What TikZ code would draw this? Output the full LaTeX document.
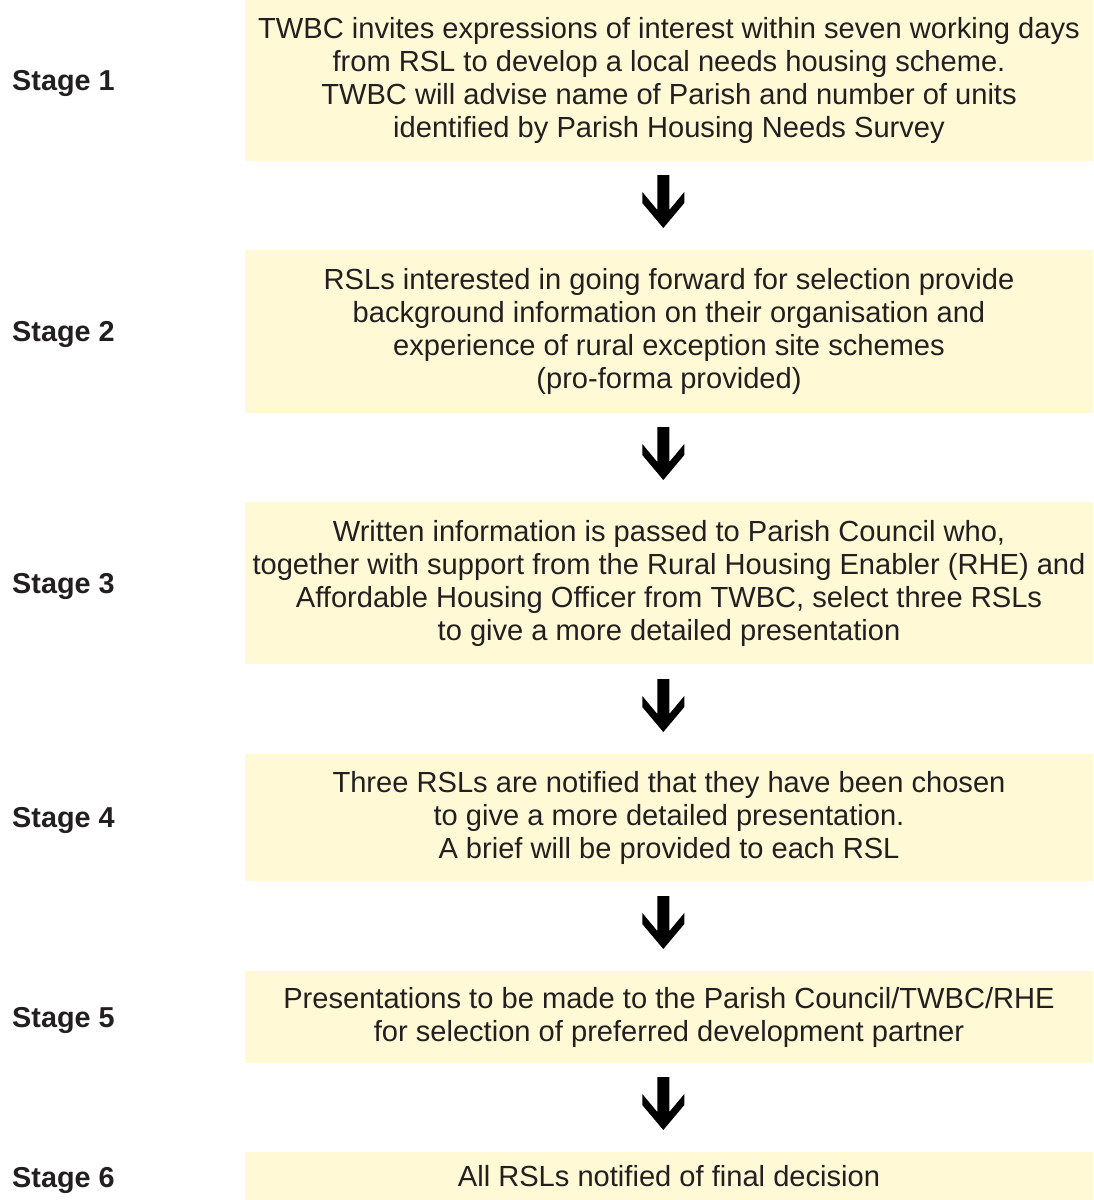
\documentclass[tikz,border=0pt]{standalone}
\usepackage{fontspec}
\setmainfont{Liberation Sans}
\definecolor{boxfill}{RGB}{255,249,214}
\definecolor{txt}{RGB}{35,31,32}
\begin{document}
\begin{tikzpicture}[x=1pt,y=-1pt,
  box/.style={fill=boxfill, draw=none, inner sep=0pt, minimum width=848pt,
    align=center, text=txt, font=\fontsize{29.1}{33}\selectfont},
  stagelabel/.style={anchor=base west, inner sep=0pt, text=txt,
    font=\fontsize{28.8}{33}\selectfont\bfseries},
  downarrow/.pic={\fill[black] (-6,0) -- (6,0) -- (6,35) -- (21,17) -- (21,28)
     -- (0,53) -- (-21,28) -- (-21,17) -- (-6,35) -- cycle;}]
\useasboundingbox (0,0) rectangle (1093,1200);
\node[box, minimum height=161pt] (b1) at (669,80.5) {TWBC invites expressions of interest within seven working days\\ from RSL to develop a local needs housing scheme.\\ TWBC will advise name of Parish and number of units\\ identified by Parish Housing Needs Survey};
\node[box, minimum height=163pt] (b2) at (669,331.5) {RSLs interested in going forward for selection provide\\ background information on their organisation and\\ experience of rural exception site schemes\\ (pro-forma provided)};
\node[box, minimum height=162pt] (b3) at (669,583) {Written information is passed to Parish Council who,\\ together with support from the Rural Housing Enabler (RHE) and\\ Affordable Housing Officer from TWBC, select three RSLs\\ to give a more detailed presentation};
\node[box, minimum height=127pt] (b4) at (669,817.5) {Three RSLs are notified that they have been chosen\\ to give a more detailed presentation.\\ A brief will be provided to each RSL};
\node[box, minimum height=92pt] (b5) at (669,1017) {Presentations to be made to the Parish Council/TWBC/RHE\\ for selection of preferred development partner};
\node[box, minimum height=48pt] (b6) at (669,1176) {All RSLs notified of final decision};
\node[stagelabel] (s1) at (12,90.5) {Stage 1};
\node[stagelabel] (s2) at (12,341.5) {Stage 2};
\node[stagelabel] (s3) at (12,593) {Stage 3};
\node[stagelabel] (s4) at (12,827.5) {Stage 4};
\node[stagelabel] (s5) at (12,1027) {Stage 5};
\node[stagelabel] (s6) at (12,1187) {Stage 6};
\pic at (663.3,175) {downarrow};
\pic at (663.3,427) {downarrow};
\pic at (663.3,679) {downarrow};
\pic at (663.3,896) {downarrow};
\pic at (663.3,1077) {downarrow};
\end{tikzpicture}
\end{document}
